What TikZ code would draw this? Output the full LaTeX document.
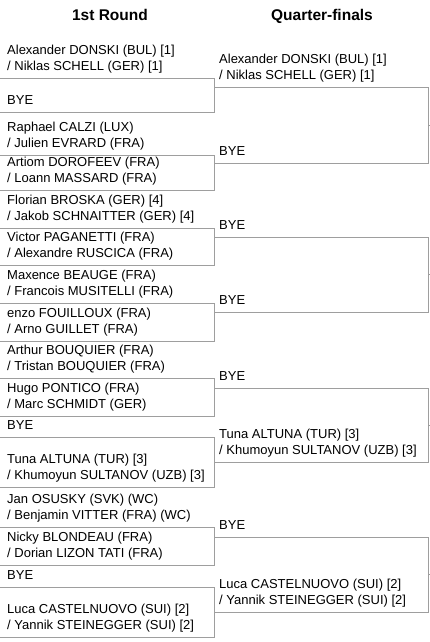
\documentclass[tikz,border=0pt]{standalone}
\usepackage{fontspec}
\setmainfont{Liberation Sans}
\usepackage{xcolor}
\usepackage{tikz}
\usetikzlibrary{calc}
\definecolor{rulegray}{RGB}{158,158,158}

\tikzset{
  entry/.style={anchor=south west, inner sep=0pt, text depth=0pt, align=left,
    font=\fontsize{13}{16}\selectfont},
  head/.style={anchor=base, inner sep=0pt, font=\fontsize{15.5}{18}\selectfont\bfseries},
  rule/.style={draw=rulegray, line width=1pt},
}

\begin{document}
\begin{tikzpicture}[x=1pt, y=-1pt]
    \useasboundingbox (0,0) rectangle (430,642);
    \node[head] (hround) at (110,21) {1st Round};
    \node[head] (hquarter) at (322,21) {Quarter-finals};
    % 1st round
    \node[entry] (ra) at (7,71) {Alexander DONSKI (BUL) [1]\\/ Niklas SCHELL (GER) [1]};
    \node[entry] (rb) at (7,105) {BYE};
    \node[entry] (rc) at (7,148) {Raphael CALZI (LUX)\\/ Julien EVRARD (FRA)};
    \node[entry] (rd) at (7,183) {Artiom DOROFEEV (FRA)\\/ Loann MASSARD (FRA)};
    \node[entry] (re) at (7,221) {Florian BROSKA (GER) [4]\\/ Jakob SCHNAITTER (GER) [4]};
    \node[entry] (rf) at (7,258) {Victor PAGANETTI (FRA)\\/ Alexandre RUSCICA (FRA)};
    \node[entry] (rg) at (7,296) {Maxence BEAUGE (FRA)\\/ Francois MUSITELLI (FRA)};
    \node[entry] (rh) at (7,334) {enzo FOUILLOUX (FRA)\\/ Arno GUILLET (FRA)};
    \node[entry] (ri) at (7,371) {Arthur BOUQUIER (FRA)\\/ Tristan BOUQUIER (FRA)};
    \node[entry] (rj) at (7,409) {Hugo PONTICO (FRA)\\/ Marc SCHMIDT (GER)};
    \node[entry] (rk) at (7,430) {BYE};
    \node[entry] (rl) at (7,480) {Tuna ALTUNA (TUR) [3]\\/ Khumoyun SULTANOV (UZB) [3]};
    \node[entry] (rm) at (7,520) {Jan OSUSKY (SVK) (WC)\\/ Benjamin VITTER (FRA) (WC)};
    \node[entry] (rn) at (7,558) {Nicky BLONDEAU (FRA)\\/ Dorian LIZON TATI (FRA)};
    \node[entry] (ro) at (7,580) {BYE};
    \node[entry] (rp) at (7,630) {Luca CASTELNUOVO (SUI) [2]\\/ Yannik STEINEGGER (SUI) [2]};
    % quarter-finals
    \node[entry] (qa) at (219,80) {Alexander DONSKI (BUL) [1]\\/ Niklas SCHELL (GER) [1]};
    \node[entry] (qb) at (219,156) {BYE};
    \node[entry] (qc) at (219,230) {BYE};
    \node[entry] (qd) at (219,305) {BYE};
    \node[entry] (qe) at (219,381) {BYE};
    \node[entry] (qf) at (219,455) {Tuna ALTUNA (TUR) [3]\\/ Khumoyun SULTANOV (UZB) [3]};
    \node[entry] (qg) at (219,530) {BYE};
    \node[entry] (qh) at (219,605) {Luca CASTELNUOVO (SUI) [2]\\/ Yannik STEINEGGER (SUI) [2]};
    % bracket lines
    \foreach \y [count=\i] in {78,112,155,190,228,265,303,341,378,416,437,487,527,565,587,637} {
        \coordinate (s\i) at (0,\y);
        \coordinate (t\i) at (214,\y);
    }
    \foreach \y [count=\i] in {87,163,237,312,388,462,537,612} {
        \coordinate (u\i) at (214,\y);
        \coordinate (v\i) at (428,\y);
    }
    \foreach \i in {1,3,...,15} {
        \pgfmathtruncatemacro\j{\i+1}
        \draw[rule] (s\i) -- (t\i) -- (t\j) -- (s\j);
    }
    \foreach \i in {1,3,5,7} {
        \pgfmathtruncatemacro\j{\i+1}
        \draw[rule] (u\i) -- (v\i) -- (v\j) -- (u\j);
        \draw[rule] ($(v\i)!0.5!(v\j)$) -- +(2,0);
    }
\end{tikzpicture}
\end{document}
